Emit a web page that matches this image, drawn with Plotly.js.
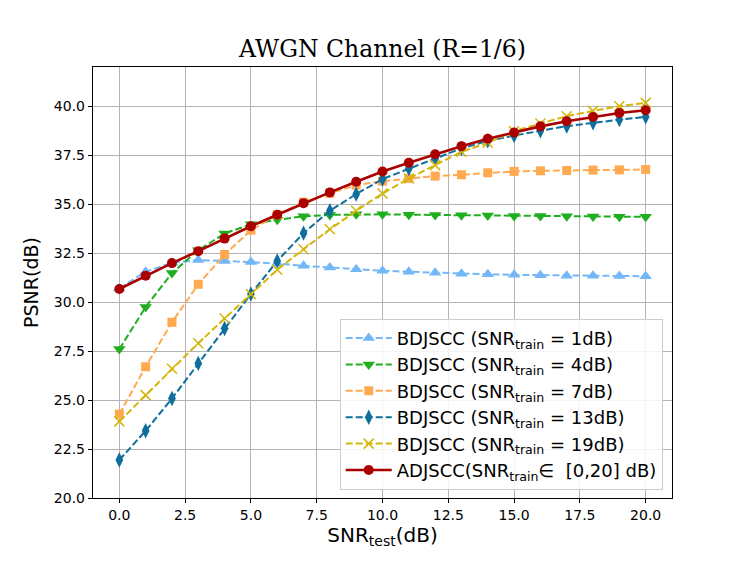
<!DOCTYPE html>
<html>
<head>
<meta charset="utf-8">
<script src="https://cdn.plot.ly/plotly-3.0.1.min.js"></script>
<style>
  html, body { margin: 0; padding: 0; background: #fff; }
  #chart { width: 747px; height: 561px; }
</style>
</head>
<body>
<div id="chart"></div>
<script>
  // SNR_test values (dB)
  const snrTest = [0, 1, 2, 3, 4, 5, 6, 7, 8, 9, 10, 11, 12, 13, 14, 15, 16, 17, 18, 19, 20];

  // PSNR
  const bd1 = [30.70, 31.55, 32.00, 32.15, 32.10, 32.05, 31.97, 31.85, 31.76, 31.67, 31.60,
               31.55, 31.50, 31.45, 31.42, 31.39, 31.37, 31.35, 31.34, 31.33, 31.32];
  const bd4 = [27.60, 29.75, 31.48, 32.65, 33.50, 33.97, 34.20, 34.38, 34.45, 34.48, 34.48,
               34.46, 34.45, 34.43, 34.42, 34.40, 34.39, 34.38, 34.37, 34.36, 34.35];
  const bd7 = [24.28, 26.70, 28.97, 30.91, 32.43, 33.67, 34.45, 35.10, 35.55, 35.97, 36.17,
               36.31, 36.43, 36.50, 36.60, 36.67, 36.70, 36.72, 36.74, 36.75, 36.77];
  const bd13 = [21.94, 23.43, 25.08, 26.87, 28.65, 30.41, 32.10, 33.52, 34.66, 35.51, 36.28,
                36.82, 37.33, 37.84, 38.23, 38.50, 38.74, 38.98, 39.15, 39.32, 39.46];
  const bd19 = [23.91, 25.25, 26.60, 27.90, 29.16, 30.40, 31.65, 32.70, 33.72, 34.66, 35.54,
                36.31, 36.99, 37.67, 38.13, 38.72, 39.12, 39.49, 39.76, 40.00, 40.17];
  const adj = [30.67, 31.35, 31.99, 32.60, 33.24, 33.87, 34.46, 35.05, 35.60, 36.14, 36.67,
               37.11, 37.55, 37.96, 38.34, 38.66, 38.97, 39.23, 39.45, 39.65, 39.79];

  const seriesNames = [
    'BDJSCC (SNR<sub>train</sub> = 1dB)',
    'BDJSCC (SNR<sub>train</sub> = 4dB)',
    'BDJSCC (SNR<sub>train</sub> = 7dB)',
    'BDJSCC (SNR<sub>train</sub> = 13dB)',
    'BDJSCC (SNR<sub>train</sub> = 19dB)',
    'ADJSCC(SNR<sub>train</sub>\u2208  [0,20] dB)'
  ];

  const yTicks = [20, 22.5, 25, 27.5, 30, 32.5, 35, 37.5, 40];
  const xTicks = [0, 2.5, 5, 7.5, 10, 12.5, 15, 17.5, 20];

  function dashed(y, name, color, symbol, size, extra) {
    const marker = Object.assign({symbol: symbol, size: size, color: color,
      line: {width: 0, color: color}}, extra || {});
    return {
      x: snrTest, y: y, name: name, legendgroup: name, type: 'scatter', mode: 'lines+markers',
      line: {color: color, width: 2, dash: '7px,3px'},
      marker: marker
    };
  }

  const data = [
    dashed(bd1, seriesNames[0], '#74b7f7', 'triangle-up', 11),
    dashed(bd4, seriesNames[1], '#1fae1f', 'triangle-down', 11),
    dashed(bd7, seriesNames[2], '#ffaa50', 'square', 9),
    dashed(bd13, seriesNames[3], '#0e6e9c', 'diamond-tall', 11),
    dashed(bd19, seriesNames[4], '#d4b50a', 'x-thin', 10, {line: {width: 1.5, color: '#d4b50a'}}),
    {
      x: snrTest, y: adj, name: seriesNames[5], legendgroup: 'adj', type: 'scatter', mode: 'lines+markers',
      line: {color: '#aa0000', width: 2.6},
      marker: {symbol: 'circle', size: 10, color: '#aa0000'}
    }
  ];

  const axisCommon = {
    showline: true, linecolor: '#000', linewidth: 1.2, mirror: true,
    ticks: 'outside', ticklen: 4, tickcolor: '#000', tickwidth: 1,
    showgrid: true, gridcolor: '#b4b4b4', gridwidth: 1,
    zeroline: false,
    tickfont: {family: 'DejaVu Sans', size: 14, color: '#000'}
  };

  const layout = {
    width: 747, height: 561,
    margin: {l: 93, r: 75, t: 67, b: 63},
    paper_bgcolor: '#fff', plot_bgcolor: '#fff',
    title: {
      text: 'AWGN Channel (R=1/6)',
      font: {family: 'DejaVu Serif', size: 23.5, color: '#000'},
      xref: 'paper', x: 0.5, xanchor: 'center', y: 0.913, yanchor: 'middle'
    },
    xaxis: Object.assign({}, axisCommon, {
      range: [-1, 21],
      tickvals: xTicks, ticktext: xTicks.map(v => v.toFixed(1)),
      title: {text: 'SNR<sub>test</sub>(dB)', standoff: 5,
              font: {family: 'DejaVu Sans', size: 20, color: '#000'}}
    }),
    yaxis: Object.assign({}, axisCommon, {
      range: [20, 42],
      tickvals: yTicks, ticktext: yTicks.map(v => v.toFixed(1)),
      title: {text: 'PSNR(dB)', standoff: 10,
              font: {family: 'DejaVu Sans', size: 19, color: '#000'}}
    }),
    legend: {
      x: 0.984, y: 0.019, xanchor: 'right', yanchor: 'bottom',
      bgcolor: 'rgba(255,255,255,0.85)', bordercolor: '#cccccc', borderwidth: 1,
      font: {family: 'DejaVu Sans', size: 18, color: '#000'},
      tracegroupgap: 0, itemwidth: 46
    },
    showlegend: true
  };

  Plotly.newPlot('chart', data, layout, {staticPlot: true, displayModeBar: false});
</script>
</body>
</html>
